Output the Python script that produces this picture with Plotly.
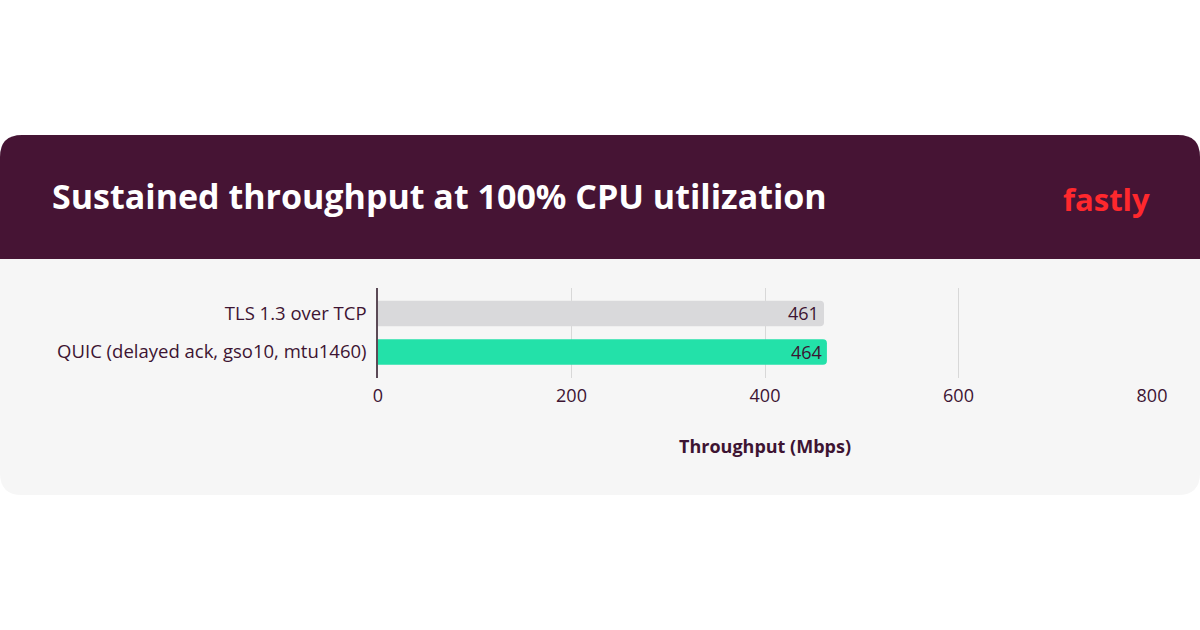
import plotly.graph_objects as go

# ---- data ----
categories = ["TLS 1.3 over TCP", "QUIC (delayed ack, gso10, mtu1460)"]
throughput = [461, 464]
bar_colors = ["#d9d9db", "#23e1a9"]
x_ticks = [0, 200, 400, 600, 800]

title_text = "Sustained throughput at 100% CPU utilization"
x_title = "Throughput (Mbps)"

W, H = 1200, 630
TEXT = "#3d1432"
PURPLE = "#461434"
BODY = "#f6f6f6"
FONT = "Open Sans"

def px(x):
    return x / W

def py(y):
    return 1 - y / H

def rounded_path(x0, y0, x1, y1, r, top=True, bottom=True):
    rx, ry = r / W, r / H
    X0, X1 = px(x0), px(x1)
    Yt, Yb = py(y0), py(y1)
    p = []
    if top:
        p.append(f"M {X0},{Yt - ry} Q {X0},{Yt} {X0 + rx},{Yt} L {X1 - rx},{Yt} Q {X1},{Yt} {X1},{Yt - ry}")
    else:
        p.append(f"M {X0},{Yt} L {X1},{Yt}")
    if bottom:
        p.append(f"L {X1},{Yb + ry} Q {X1},{Yb} {X1 - rx},{Yb} L {X0 + rx},{Yb} Q {X0},{Yb} {X0},{Yb + ry} Z")
    else:
        p.append(f"L {X1},{Yb} L {X0},{Yb} Z")
    return " ".join(p)

fig = go.Figure()
for cat, val, col in zip(categories, throughput, bar_colors):
    fig.add_trace(go.Bar(
        y=[cat], x=[val], orientation="h",
        marker=dict(color=col, line=dict(width=0)),
        width=0.66,
        showlegend=False, hoverinfo="skip",
    ))

shapes = [
    dict(type="path", xref="paper", yref="paper", layer="below",
         path=rounded_path(0, 135, 1200, 495, 22, top=True, bottom=True),
         fillcolor=BODY, line=dict(width=0)),
    dict(type="path", xref="paper", yref="paper", layer="below",
         path=rounded_path(0, 135, 1200, 259, 22, top=True, bottom=False),
         fillcolor=PURPLE, line=dict(width=0)),
]

annotations = [
    dict(text=f"<b>{title_text}</b>", xref="paper", yref="paper",
         x=px(50), y=py(196), xanchor="left", yanchor="middle", showarrow=False,
         font=dict(family=FONT, size=34, color="white")),
    dict(text="<b>fastly</b>", xref="paper", yref="paper",
         x=px(1152), y=py(199), xanchor="right", yanchor="middle", showarrow=False,
         font=dict(family=FONT, size=31, color="#ff282d")),
    dict(text=f"<b>{x_title}</b>", xref="paper", yref="paper",
         x=px(765), y=py(446), xanchor="center", yanchor="middle", showarrow=False,
         font=dict(family=FONT, size=18, color=TEXT)),
]
# value labels at the inner end of each bar
for cat, val in zip(categories, throughput):
    annotations.append(dict(
        text=str(val), x=val, y=cat, xref="x", yref="y",
        xanchor="right", yanchor="middle", xshift=-3, yshift=0,
        showarrow=False, font=dict(family=FONT, size=18, color=TEXT),
    ))

fig.update_layout(
    width=W, height=H, template="none",
    margin=dict(l=0, r=0, t=0, b=0),
    paper_bgcolor="white", plot_bgcolor="rgba(0,0,0,0)",
    barmode="overlay", barcornerradius=4,
    shapes=shapes, annotations=annotations,
    font=dict(family=FONT, color=TEXT, size=18),
    xaxis=dict(
        domain=[px(378), px(1152)], range=[0, 800],
        tickvals=x_ticks, ticktext=[str(v) for v in x_ticks],
        showgrid=True, gridcolor="#d8d8d8", gridwidth=1,
        zeroline=False, showline=False, ticks="",
        tickfont=dict(size=18, color=TEXT, family=FONT),
        ticklabelstandoff=5, automargin=False, fixedrange=True,
    ),
    yaxis=dict(
        domain=[py(378), py(288)], type="category",
        categoryorder="array", categoryarray=categories,
        range=[1.675, -0.662],
        showgrid=False, zeroline=False,
        showline=True, linecolor="#5b4a56", linewidth=1.5,
        ticks="", ticklabelstandoff=6,
        tickfont=dict(size=18.5, color=TEXT, family=FONT),
        automargin=False, fixedrange=True,
    ),
)

fig.write_html("out.html")
